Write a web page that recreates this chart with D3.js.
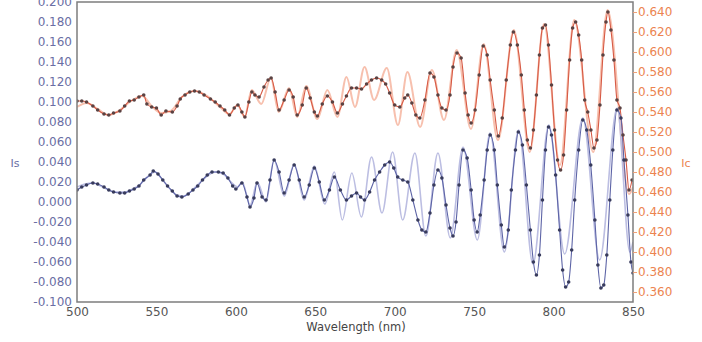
<!DOCTYPE html>
<html>
<head>
<meta charset="utf-8">
<script src="https://cdn.jsdelivr.net/npm/d3@7"></script>
<style>
  body { margin: 0; background: #fff; }
  svg { display: block; }
  text { font-family: "DejaVu Sans", sans-serif; }
</style>
</head>
<body>
<div id="chart"></div>
<script>
// measured Is (left axis)
const isWave = [500,503,506,510,513,517,520,523,527,530,533,536,539,542,546,548,551,554,557,560,563,566,570,573,576,579,582,585,589,592,595,598,600,
  603.8,607,608.9,611.4,613.3,616.5,619,621.5,624.1,627.2,630.4,633.5,636.7,639.9,643,646.2,649.4,652.5,655.7,658.9,662,665.8,669.6,672.8,676,678.5,681,684.2,687.3,690.5,693.7,696.8,699.4,
  701.9,705.1,708.2,711.4,714.6,717.1,719.6,722.2,724.7,727.2,729.7,732.3,734.8,736.7,738.6,740.5,743,745.6,748.1,750,751.9,753.8,756.3,758.2,760.1,762.7,764.6,767.1,769,771.5,773.4,776,777.8,780.4,782.9,785.4,787.3,789.2,791.1,793,794.9,796.8,798.7,
  801.3,803.8,805.7,807.6,809.5,811.4,813.3,815.8,818.4,820.9,823.4,826,827.9,829.8,831.6,833.5,835.4,837.3,839.9,842.4,844.3,846.8,848.7,850];
const isVals = [0.012,0.015,0.017,0.019,0.018,0.015,0.012,0.010,0.009,0.009,0.011,0.013,0.016,0.022,0.027,0.031,0.028,0.022,0.016,0.011,0.006,0.005,0.008,0.012,0.016,0.022,0.027,0.030,0.030,0.029,0.024,0.016,0.013,
  0.019,0.005,-0.005,0.004,0.019,0.005,0.002,0.022,0.042,0.030,0.009,0.022,0.037,0.022,0.005,0.017,0.034,0.020,0.002,0.012,0.025,0.012,0.002,0.006,0.009,0.005,0.002,0.010,0.022,0.030,0.037,0.040,0.034,
  0.025,0.022,0.020,0.002,-0.018,-0.028,-0.030,-0.011,0.017,0.032,0.024,-0.003,-0.026,-0.034,-0.020,0.017,0.052,0.044,0.012,-0.018,-0.030,-0.013,0.022,0.052,0.067,0.052,0.017,-0.023,-0.045,-0.028,0.012,0.052,0.070,0.057,0.017,-0.028,-0.060,-0.073,-0.053,0.002,0.052,0.075,0.067,
  0.027,-0.028,-0.068,-0.085,-0.080,-0.048,0.002,0.052,0.082,0.072,0.037,-0.018,-0.063,-0.086,-0.083,-0.053,0.002,0.052,0.092,0.084,0.042,-0.013,-0.060,-0.071];

// fitted Is
const isFitWave = [500,505,510,515,520,525,530,535,540,545,549,553,558,563,567,572,577,582,587,592,597,601,
  604,609,613.5,619,624,630.5,636.7,643,649.4,656,662,667,673,679,685.4,692,698.7,705,712.7,719.6,727.2,735,743,752,760,769,778,787,797,807,818.4,829,840,848,850];
const isFitVals = [0.015,0.018,0.019,0.016,0.012,0.010,0.010,0.013,0.018,0.026,0.030,0.024,0.014,0.007,0.006,0.011,0.019,0.026,0.030,0.028,0.020,0.015,
  0.020,-0.003,0.020,0.000,0.042,0.006,0.038,0.002,0.036,-0.002,0.030,-0.018,0.029,-0.015,0.045,-0.011,0.050,-0.018,0.049,-0.034,0.049,-0.036,0.055,-0.038,0.069,-0.050,0.072,-0.062,0.077,-0.052,0.084,-0.058,0.094,-0.050,-0.040];

// measured Ic (right axis)
const icWave = [500,503,506,510,513,517,520,523,527,530,533,536,539,542,544,547,550,553,556,560,563,565,568,571,574,577,580,584,587,590,593,596,599,
  601.3,603.8,605.7,608.2,610.1,612,614.6,617.7,620.3,622.2,624.7,627.2,630.4,633.5,636.1,638.6,641.8,644.3,646.8,649.4,651.3,654.4,657.6,660.8,663.9,667.1,669.6,672.8,676,679.1,682.3,685.4,688.6,691.8,694.3,696.8,700,
  703.2,706.3,708.2,710.8,713.3,715.8,719,722.2,724.7,727.2,729.7,732.3,734.8,736.7,739.2,741.8,744.3,746.2,748.1,750.6,753.2,755.7,758.2,760.1,762.7,765.2,767.7,770.2,772.8,774.7,777.2,779.7,781.6,783.5,785.4,787.3,789.2,791.1,793,794.9,796.8,798.7,
  800.6,802.5,804.4,806.3,808.2,810.1,812,813.9,815.8,817.7,819.6,821.5,823.5,825.4,827.3,829.2,831.1,833,834.2,836.1,838,839.9,841.8,843.7,845.6,847.5,849.4];
const icVals = [0.551,0.551,0.550,0.546,0.542,0.538,0.537,0.539,0.541,0.546,0.551,0.552,0.555,0.557,0.548,0.545,0.544,0.537,0.541,0.540,0.546,0.553,0.557,0.560,0.561,0.560,0.557,0.553,0.550,0.546,0.542,0.537,0.544,
  0.547,0.540,0.535,0.550,0.560,0.557,0.555,0.565,0.572,0.574,0.560,0.542,0.552,0.562,0.555,0.537,0.547,0.564,0.554,0.540,0.536,0.548,0.556,0.550,0.539,0.548,0.556,0.564,0.564,0.563,0.568,0.572,0.574,0.572,0.568,0.559,0.547,
  0.545,0.554,0.557,0.549,0.537,0.534,0.552,0.579,0.575,0.557,0.544,0.542,0.557,0.585,0.599,0.594,0.559,0.537,0.529,0.542,0.577,0.606,0.597,0.572,0.542,0.516,0.534,0.572,0.607,0.620,0.607,0.577,0.542,0.512,0.504,0.522,0.557,0.597,0.624,0.627,0.607,0.567,
  0.522,0.492,0.482,0.497,0.542,0.592,0.624,0.630,0.617,0.592,0.552,0.540,0.522,0.504,0.512,0.547,0.597,0.630,0.640,0.622,0.592,0.552,0.544,0.517,0.492,0.462,0.472];

// fitted Ic
const icFitWave = [500,506,513,520,527,535,541,547,553,559,566,574,582,590,596,601,
  605.5,610,616,622,627,633.5,638.6,644.3,651.3,657.6,663.9,669.6,675,681,687,695,702,708,716,723.4,731,739,748,756,765,775,785,794,804,813,825,834,847.5,850];
const icFitVals = [0.545,0.549,0.543,0.537,0.542,0.552,0.556,0.546,0.539,0.541,0.555,0.561,0.556,0.545,0.538,0.547,
  0.535,0.562,0.548,0.574,0.540,0.564,0.535,0.566,0.533,0.562,0.535,0.575,0.545,0.585,0.552,0.584,0.527,0.580,0.525,0.582,0.532,0.602,0.523,0.608,0.512,0.622,0.500,0.628,0.487,0.632,0.500,0.642,0.458,0.465];

const xTicks = [500,550,600,650,700,750,800,850];
const leftTicks = [-0.1,-0.08,-0.06,-0.04,-0.02,0,0.02,0.04,0.06,0.08,0.1,0.12,0.14,0.16,0.18,0.2];
const rightTicks = [0.36,0.38,0.40,0.42,0.44,0.46,0.48,0.50,0.52,0.54,0.56,0.58,0.60,0.62,0.64];

const W = 702, H = 342;
const plot = {left: 77, right: 633, top: 2, bottom: 302};

const svg = d3.select("#chart").append("svg")
  .attr("width", W)
  .attr("height", H);

const x = d3.scaleLinear().domain([500, 850]).range([plot.left, plot.right]);
const yL = d3.scaleLinear().domain([-0.1, 0.2]).range([plot.bottom, plot.top]);
const yR = d3.scaleLinear().domain([0.35, 0.65]).range([plot.bottom, plot.top]);

svg.append("clipPath").attr("id", "clip")
  .append("rect")
    .attr("x", plot.left).attr("y", plot.top)
    .attr("width", plot.right - plot.left)
    .attr("height", plot.bottom - plot.top);

const zip = (a, b) => a.map((w, i) => [w, b[i]]);

const isPts = zip(isWave, isVals), isFit = zip(isFitWave, isFitVals);
const icPts = zip(icWave, icVals), icFit = zip(icFitWave, icFitVals);

const lineL = (curve) => d3.line().x(d => x(d[0])).y(d => yL(d[1])).curve(curve);
const lineR = (curve) => d3.line().x(d => x(d[0])).y(d => yR(d[1])).curve(curve);

let g = svg.append("g").attr("clip-path", "url(#clip)");

// fitted curves first, underneath
g.append("path").datum(icFit)
  .attr("d", lineR(d3.curveMonotoneX))
  .attr("fill", "none").attr("stroke", "#f7c0ae").attr("stroke-width", 2);
g.append("path").datum(isFit)
  .attr("d", lineL(d3.curveMonotoneX))
  .attr("fill", "none").attr("stroke", "#bcbee2").attr("stroke-width", 1.6);

// measured lines
g.append("path").datum(icPts)
  .attr("d", lineR(d3.curveMonotoneX))
  .attr("fill", "none").attr("stroke", "#d65a45").attr("stroke-width", 1.1);
g.append("path").datum(isPts)
  .attr("d", lineL(d3.curveMonotoneX))
  .attr("fill", "none").attr("stroke", "#5d64a6").attr("stroke-width", 1.1);

// dots
g.selectAll("circle.ic").data(icPts).enter()
  .append("circle").attr("class", "ic")
    .attr("cx", d => x(d[0])).attr("cy", d => yR(d[1]))
    .attr("r", 1.8).attr("fill", "#5a4242");
g.selectAll("circle.is").data(isPts).enter()
  .append("circle").attr("class", "is")
    .attr("cx", d => x(d[0])).attr("cy", d => yL(d[1]))
    .attr("r", 1.8).attr("fill", "#383b5c");

// frame
svg.append("rect")
  .attr("x", plot.left).attr("y", plot.top)
  .attr("width", plot.right - plot.left)
  .attr("height", plot.bottom - plot.top)
  .attr("fill", "none").attr("stroke", "#7d7d7d").attr("stroke-width", 1.5);

// axes
let ax = svg.append("g")
  .attr("transform", "translate(0," + plot.bottom + ")")
  .call(d3.axisBottom(x).tickValues(xTicks).tickSize(0).tickPadding(5));
ax.select(".domain").remove();
ax.selectAll("text").attr("fill", "#555").style("font-size", "12px");

let al = svg.append("g")
  .attr("transform", "translate(" + plot.left + ",0)")
  .call(d3.axisLeft(yL).tickValues(leftTicks).tickFormat(d => d.toFixed(3)).tickSize(0).tickPadding(5));
al.select(".domain").remove();
al.selectAll("text").attr("fill", "#6a6ea4").style("font-size", "12px");

let ar = svg.append("g")
  .attr("transform", "translate(" + plot.right + ",0)")
  .call(d3.axisRight(yR).tickValues(rightTicks).tickFormat(d => d.toFixed(3)).tickSize(4).tickPadding(1));
ar.select(".domain").remove();
ar.selectAll("line").attr("stroke", "#f0a27a");
ar.selectAll("text").attr("fill", "#ec8450").style("font-size", "12px");

// titles
svg.append("text")
  .attr("x", 356).attr("y", 331)
  .attr("text-anchor", "middle")
  .attr("fill", "#444").style("font-size", "11.5px")
  .text("Wavelength (nm)");

svg.append("text")
  .attr("x", 15).attr("y", 167)
  .attr("text-anchor", "middle")
  .attr("fill", "#6a6ea4").style("font-size", "11px")
  .text("Is");

svg.append("text")
  .attr("x", 686).attr("y", 167)
  .attr("text-anchor", "middle")
  .attr("fill", "#ec8450").style("font-size", "11px")
  .text("Ic");
</script>
</body>
</html>
